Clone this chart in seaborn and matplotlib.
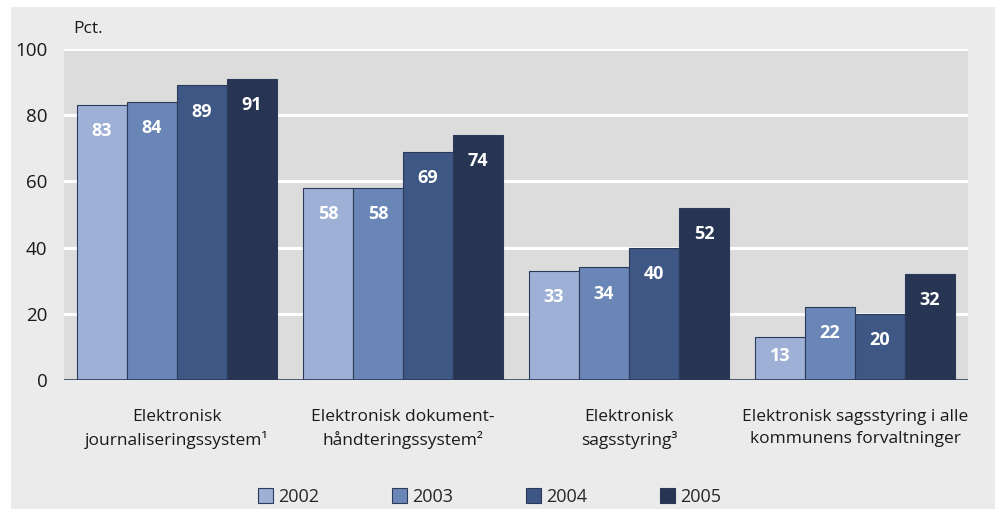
import matplotlib
matplotlib.use("Agg")
import matplotlib.pyplot as plt
import seaborn as sns
import pandas as pd
from matplotlib import font_manager
from matplotlib.patches import Rectangle

categories = [
    "Elektronisk\njournaliseringssystem¹",
    "Elektronisk dokument-\nhåndteringssystem²",
    "Elektronisk\nsagsstyring³",
    "Elektronisk sagsstyring i alle\nkommunens forvaltninger",
]
years = ["2002", "2003", "2004", "2005"]
v2002 = [83, 58, 33, 13]
v2003 = [84, 58, 34, 22]
v2004 = [89, 69, 40, 20]
v2005 = [91, 74, 52, 32]
colors = ["#9eb0d5", "#6a86b6", "#3e5785", "#273552"]
y_ticks = [0, 20, 40, 60, 80, 100]

rows = []
for yr, vals in zip(years, [v2002, v2003, v2004, v2005]):
    for c, v in zip(categories, vals):
        rows.append({"cat": c, "year": yr, "val": v})
df = pd.DataFrame(rows)

sns.set_theme(style="white")
names = {f.name for f in font_manager.fontManager.ttflist}
fam = "Liberation Sans Narrow" if "Liberation Sans Narrow" in names else "Open Sans"
plt.rcParams["font.family"] = [fam, "DejaVu Sans"]

fig = plt.figure(figsize=(9.99, 5.09), dpi=100)
fig.patch.set_facecolor("white")
fig.patches.append(Rectangle((0.011, 0.0), 0.985, 0.986, transform=fig.transFigure,
                             facecolor="#ebebeb", edgecolor="none", zorder=-10))
ax = fig.add_axes([0.064, 0.2534, 0.905, 0.6503])
ax.set_facecolor("#dcdcdc")

sns.barplot(data=df, x="cat", y="val", hue="year", palette=colors, width=0.885,
            edgecolor="#2b3a5a", linewidth=0.8, saturation=1, ax=ax, zorder=3)

ax.set_ylim(0, 100)
ax.set_xlim(-0.5, 3.5)
ax.set_yticks(y_ticks)
for t in y_ticks:
    ax.axhline(t, color="white", lw=2.2, zorder=1)
ax.axhline(0, color="#2b3a5a", lw=1.2, zorder=4)
for s in ax.spines.values():
    s.set_visible(False)
ax.tick_params(axis="both", length=0, colors="#1a1a1a")
ax.tick_params(axis="y", labelsize=13.5, pad=12)
ax.tick_params(axis="x", pad=21, labelsize=12.5)
for lbl in ax.get_xticklabels():
    lbl.set_linespacing(1.45)
ax.set_xlabel("")
ax.set_ylabel("")

for cont in ax.containers:
    for bar in cont:
        h = bar.get_height()
        y = max(h - 7.9, h * 0.55)
        ax.text(bar.get_x() + bar.get_width() / 2, y, f"{h:.0f}", ha="center", va="center",
                color="white", fontsize=13, fontweight="bold", zorder=5)

ax.text(0.01, 1.06, "Pct.", transform=ax.transAxes, fontsize=12.5, ha="left", va="center",
        color="#1a1a1a")

handles, labels = ax.get_legend_handles_labels()
ax.legend_.remove()
fig.legend(handles, labels, loc="center", bbox_to_anchor=(0.49, 0.024), ncol=4,
           frameon=False, fontsize=13, handlelength=0.85, handleheight=0.85,
           handletextpad=0.3, columnspacing=4.0)

fig.savefig("out.png", dpi=100, facecolor=fig.get_facecolor())
